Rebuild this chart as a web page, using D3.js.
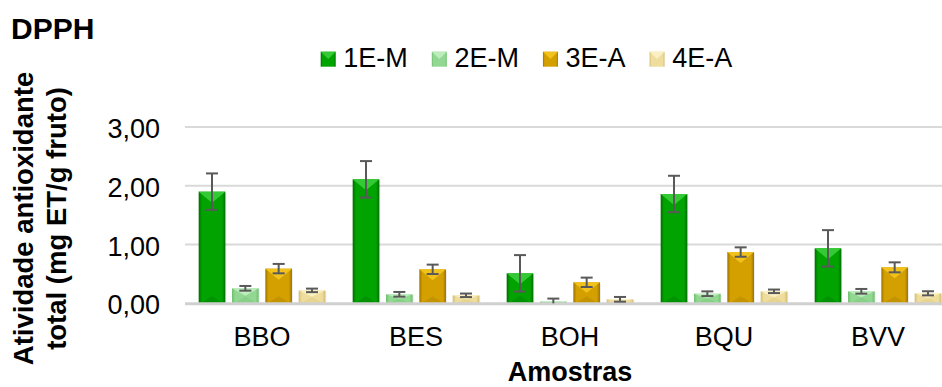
<!DOCTYPE html>
<html>
<head>
<meta charset="utf-8">
<script src="https://cdn.jsdelivr.net/npm/d3@7"></script>
<style>
  html, body { margin: 0; padding: 0; background: #fff; }
  svg { display: block; font-family: "Liberation Sans", Arial, sans-serif; }
</style>
</head>
<body>
<svg id="chart" width="942" height="387"></svg>
<script>
const categories = ["BBO", "BES", "BOH", "BQU", "BVV"];
const seriesNames = ["1E-M", "2E-M", "3E-A", "4E-A"];
const values1 = [1.90, 2.11, 0.51, 1.86, 0.935];
const values2 = [0.255, 0.153, 0.03, 0.163, 0.204];
const values3 = [0.59, 0.578, 0.357, 0.872, 0.612];
const values4 = [0.22, 0.136, 0.068, 0.204, 0.17];
const errors1 = [0.31, 0.31, 0.31, 0.31, 0.31];
const errors2 = [0.04, 0.04, 0.05, 0.04, 0.04];
const errors3 = [0.08, 0.08, 0.08, 0.08, 0.085];
const errors4 = [0.03, 0.03, 0.04, 0.03, 0.035];
const yTicks = [0, 1, 2, 3];

const allValues = [values1, values2, values3, values4];
const allErrors = [errors1, errors2, errors3, errors4];
const palette = [
  { main: "#00a300", edge: "#006b00", top: "#35c935", bottom: "#008a00" },
  { main: "#92d892", edge: "#6fbf6f", top: "#bdecbd", bottom: "#85cc85" },
  { main: "#d4a000", edge: "#9c7400", top: "#f2c21c", bottom: "#bd8f00" },
  { main: "#eedd9c", edge: "#d2bd74", top: "#fbefc4", bottom: "#e2d08c" }
];

const svg = d3.select("#chart");
const defs = svg.append("defs");
palette.forEach((p, i) => {
  const g = defs.append("linearGradient").attr("id", "grad" + i)
    .attr("x1", "0").attr("x2", "1").attr("y1", "0").attr("y2", "0");
  g.append("stop").attr("offset", "0").attr("stop-color", p.edge);
  g.append("stop").attr("offset", "0.12").attr("stop-color", p.main);
  g.append("stop").attr("offset", "0.88").attr("stop-color", p.main);
  g.append("stop").attr("offset", "1").attr("stop-color", p.edge);
});

const x = d3.scaleBand().domain(categories).range([185, 955]);
const xs = d3.scaleBand().domain(seriesNames).range([0, x.bandwidth()])
  .paddingInner(0.2).paddingOuter(0.41);
const y = d3.scaleLinear().domain([0, 3]).range([303.3, 127]);

// gridlines
svg.append("g").selectAll("line").data(yTicks.filter(t => t > 0)).join("line")
  .attr("x1", 185).attr("x2", 955)
  .attr("y1", d => y(d)).attr("y2", d => y(d))
  .attr("stroke", "#d9d9d9").attr("stroke-width", 2);

// y tick labels
svg.append("g").selectAll("text").data(yTicks).join("text")
  .attr("x", 160).attr("y", d => y(d) + 11)
  .attr("text-anchor", "end").attr("font-size", 27).attr("fill", "#000")
  .text(d => d3.format(".2f")(d).replace(".", ","));

// bars
const barsG = svg.append("g");
seriesNames.forEach((s, si) => {
  const p = palette[si];
  categories.forEach((c, ci) => {
    const v = allValues[si][ci];
    const x0 = x(c) + xs(s), w = xs.bandwidth();
    const yTop = y(v), yBot = y(0), h = yBot - yTop;
    const g = barsG.append("g");
    g.append("rect").attr("x", x0 + 1).attr("y", yTop + 1).attr("width", w).attr("height", h)
      .attr("fill", "#000").attr("opacity", 0.08);
    g.append("rect").attr("x", x0).attr("y", yTop).attr("width", w).attr("height", h)
      .attr("fill", `url(#grad${si})`);
    const td = Math.min(h / 2, 11);
    g.append("path")
      .attr("d", `M${x0},${yTop}L${x0 + w},${yTop}L${x0 + w / 2},${yTop + td}Z`)
      .attr("fill", p.top);
    const bd = Math.min(h / 2, 7);
    g.append("path")
      .attr("d", `M${x0 + 2},${yBot}L${x0 + w - 2},${yBot}L${x0 + w / 2},${yBot - bd}Z`)
      .attr("fill", p.bottom).attr("opacity", 0.7);
  });
});

// baseline
svg.append("line").attr("x1", 185).attr("x2", 955)
  .attr("y1", y(0) + 0.5).attr("y2", y(0) + 0.5)
  .attr("stroke", "#d0d0d0").attr("stroke-width", 3);

// error bars
const errG = svg.append("g").attr("stroke", "#595959").attr("stroke-width", 2);
seriesNames.forEach((s, si) => {
  categories.forEach((c, ci) => {
    const v = allValues[si][ci], e = allErrors[si][ci];
    const cx = x(c) + xs(s) + xs.bandwidth() / 2;
    const lo = Math.max(0, v - e), hi = v + e;
    errG.append("line").attr("x1", cx).attr("x2", cx).attr("y1", y(lo)).attr("y2", y(hi));
    errG.append("line").attr("x1", cx - 6).attr("x2", cx + 6).attr("y1", y(hi)).attr("y2", y(hi));
    if (v - e > 0)
      errG.append("line").attr("x1", cx - 6).attr("x2", cx + 6).attr("y1", y(lo)).attr("y2", y(lo));
  });
});

// category labels
svg.append("g").selectAll("text").data(categories).join("text")
  .attr("x", d => x(d) + x.bandwidth() / 2).attr("y", 346)
  .attr("text-anchor", "middle").attr("font-size", 27).attr("fill", "#000")
  .text(d => d);

// axis title x
svg.append("text").attr("x", 570).attr("y", 381).attr("text-anchor", "middle")
  .attr("font-size", 27).attr("font-weight", "bold").text("Amostras");

// axis title y
const yt = svg.append("text").attr("transform", "translate(0,218.5) rotate(-90)")
  .attr("text-anchor", "middle").attr("font-size", 27.5).attr("font-weight", "bold");
yt.append("tspan").attr("x", 0).attr("y", 33).text("Atividade antioxidante");
yt.append("tspan").attr("x", 0).attr("y", 66).text("total (mg ET/g fruto)");

// title
svg.append("text").attr("x", 11).attr("y", 39).attr("font-size", 30)
  .attr("font-weight", "bold").text("DPPH");

// legend
const leg = svg.append("g");
let lx = 320.7;
seriesNames.forEach((s, si) => {
  const p = palette[si];
  const g = leg.append("g").attr("transform", `translate(${lx},0)`);
  g.append("rect").attr("x", 0).attr("y", 51.7).attr("width", 15).attr("height", 15)
    .attr("fill", `url(#grad${si})`);
  g.append("path").attr("d", "M0,51.7L15,51.7L7.5,59Z").attr("fill", p.top);
  const t = g.append("text").attr("x", 22.6).attr("y", 67).attr("font-size", 27).text(s);
  lx += 22.6 + t.node().getComputedTextLength() + 24;
});
</script>
</body>
</html>
